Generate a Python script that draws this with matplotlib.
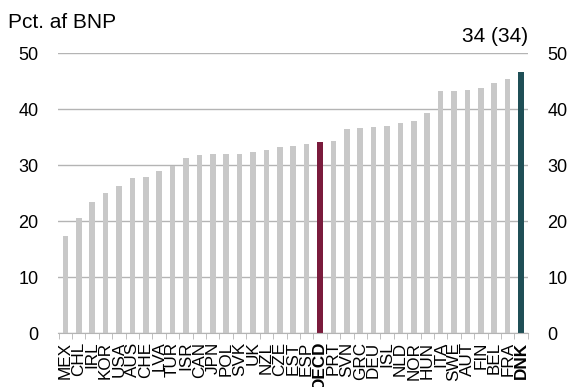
import numpy as np
import matplotlib.pyplot as plt

plt.rcParams['font.family'] = ['Liberation Sans', 'DejaVu Sans']

countries = ["MEX", "CHL", "IRL", "KOR", "USA", "AUS", "CHE", "LVA", "TUR", "ISR",
             "CAN", "JPN", "POL", "SVK", "UK", "NZL", "CZE", "EST", "ESP", "OECD",
             "PRT", "SVN", "GRC", "DEU", "ISL", "NLD", "NOR", "HUN", "ITA", "SWE",
             "AUT", "FIN", "BEL", "FRA", "DNK"]
values = [17.4, 20.6, 23.4, 25.1, 26.3, 27.8, 27.9, 28.9, 29.9, 31.3,
          31.8, 32.0, 32.0, 32.1, 32.4, 32.7, 33.3, 33.5, 33.8, 34.2,
          34.3, 36.5, 36.7, 36.9, 37.1, 37.6, 37.9, 39.3, 43.3, 43.3,
          43.4, 43.9, 44.7, 45.4, 46.7]
highlight = {"OECD": "#7a1b3c", "DNK": "#1f4f56"}
yticks = [0, 10, 20, 30, 40, 50]
note = "34 (34)"

colors = [highlight.get(c, "#c8c8c8") for c in countries]
x = np.arange(len(countries))

fig = plt.figure(figsize=(5.73, 3.87), dpi=100)
ax = fig.add_axes([0.101, 0.139, 0.82, 0.723])
ax.bar(x, values, width=0.42, color=colors, zorder=2)

ax.set_ylim(0, 50)
ax.set_xlim(-0.56, len(countries) - 0.6)
ax.set_yticks(yticks)
ax.yaxis.grid(True, color="#b4b4b4", linewidth=1.0, zorder=0)
ax.set_axisbelow(True)
for s in ["top", "left", "right"]:
    ax.spines[s].set_visible(False)
ax.spines["bottom"].set_color("#b4b4b4")
ax.tick_params(axis="y", length=0, pad=14, labelsize=13, labelright=True)

ax.set_xticks(x)
ax.set_xticklabels(countries, rotation=90, fontsize=12.3)
for lbl in ax.get_xticklabels():
    if lbl.get_text() in highlight:
        lbl.set_fontweight("bold")
ax.set_xticks(np.arange(len(countries) + 1) - 0.5, minor=True)
ax.tick_params(axis="x", which="major", length=0, pad=6)
ax.tick_params(axis="x", which="minor", length=4, color="#b4b4b4")

ax.text(1.0, 1.025, note, transform=ax.transAxes, ha="right", va="bottom", fontsize=15)
fig.text(8 / 573, 1 - 13 / 387, "Pct. af BNP", ha="left", va="top", fontsize=15)

fig.savefig("out.png", dpi=100)
